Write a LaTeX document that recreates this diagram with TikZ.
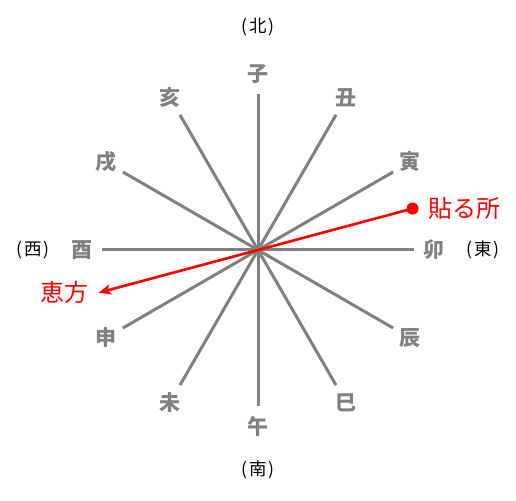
\documentclass[tikz,border=0pt]{standalone}
\usepackage{fontspec}
\newfontfamily\cjk{Noto Sans CJK JP}
\usetikzlibrary{positioning, calc, arrows.meta}
\definecolor{branchgray}{RGB}{128,128,128}
\definecolor{ehored}{RGB}{255,0,0}

\begin{document}
\begin{tikzpicture}[x = 1pt, y = 1pt,
    every node/.style = { inner sep = 0pt, font = \cjk },
    branch/.style = { draw = branchgray, line width = 3pt },
    zodiac/.style = { text = branchgray, font = \cjk\bfseries\fontsize{21}{21}\selectfont },
    compass/.style = { font = \cjk\fontsize{17.5}{17.5}\selectfont },
    ehou/.style = { text = ehored, font = \cjk\fontsize{24}{24}\selectfont }]
    \useasboundingbox (0,0) rectangle (516,500);
    \coordinate (o) at (258,250);
    % twelve branches
    \foreach \name [count = \i from 0] in {子,丑,寅,卯,辰,巳,午,未,申,酉,戌,亥} {
      \coordinate (end\i) at ($(o) + (90-30*\i:156)$);
      \draw [branch] (o) -- (end\i);
      \node [zodiac] (sign\i) at ($(o) + (90-30*\i:176)$) { \name };
    }
    % directions
    \node [compass] (north) at (258,473) { (\hspace{2pt}北\hspace{2pt}) };
    \node [compass] (south) at (258,30) { (\hspace{2pt}南\hspace{2pt}) };
    \node [compass] (west) at (33,250) { (\hspace{2pt}西\hspace{2pt}) };
    \node [compass] (east) at (483,250) { (\hspace{2pt}東\hspace{2pt}) };
    % eho arrow
    \node [circle, fill = ehored, minimum size = 12pt] (haru) at ($(o) + (15:160)$) {};
    \coordinate (tip) at ($(o) + (195:165)$);
    \draw [draw = ehored, line width = 2.6pt, -{Stealth[length = 12pt, width = 10pt, inset = 2.5pt]}] (haru.center) -- (tip);
    \node [ehou, right = 10pt of haru] (harulabel) { 貼る所 };
    \node [ehou, left = 10pt of tip] (ehoulabel) { 恵方 };
\end{tikzpicture}
\end{document}
